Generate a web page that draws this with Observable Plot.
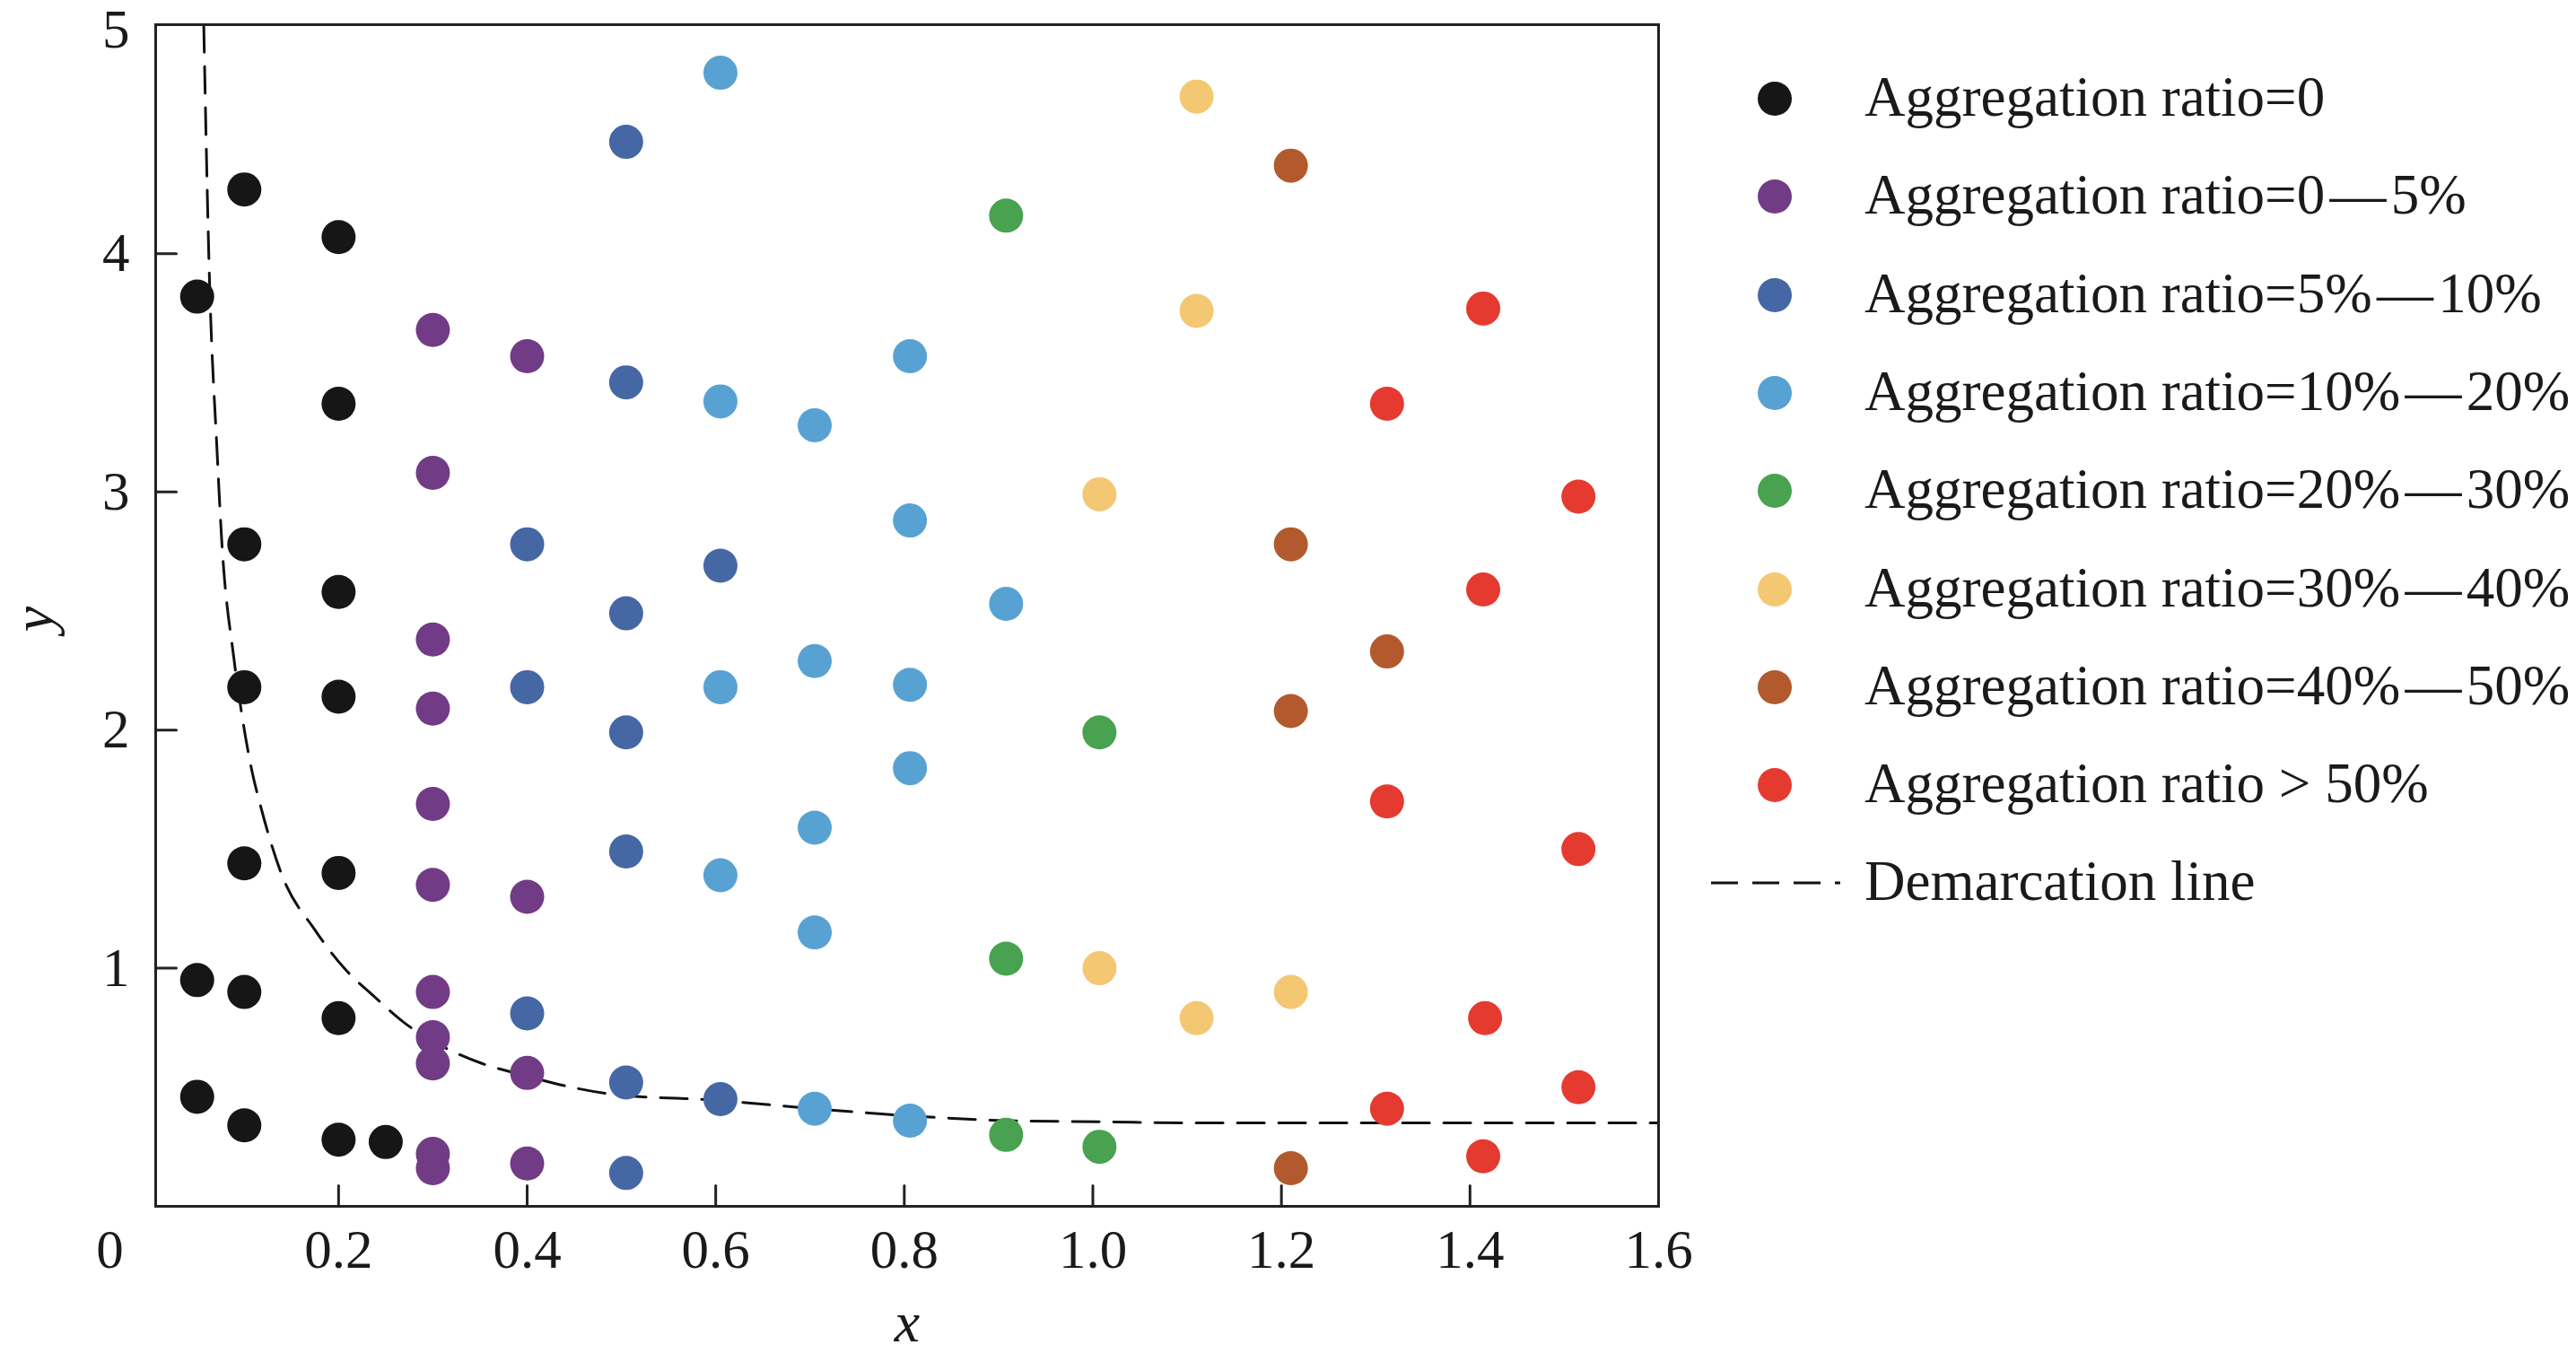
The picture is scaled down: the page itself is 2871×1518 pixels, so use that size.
<!DOCTYPE html>
<html>
<head>
<meta charset="utf-8">
<script src="https://cdn.jsdelivr.net/npm/d3@7"></script>
<script src="https://cdn.jsdelivr.net/npm/@observablehq/plot@0.6"></script>
<style>
html, body { margin: 0; padding: 0; background: #fff; }
#wrap { position: relative; width: 2871px; height: 1518px; overflow: hidden; font-family: "Liberation Serif", "Times New Roman", serif; }
#legend { position: absolute; left: 0; top: 0; width: 2871px; height: 1518px; pointer-events: none; }
.sw { position: absolute; width: 38px; height: 38px; border-radius: 50%; }
.lab { position: absolute; font-size: 63px; line-height: 63px; color: #1a1a1a; white-space: nowrap; }
</style>
</head>
<body>
<div id="wrap"><div id="chart"></div><div id="legend"></div></div>
<script>
// ---- categories & colours ----
const categories = [
  "Aggregation ratio=0",
  "Aggregation ratio=0\u200a\u2014\u200a5%",
  "Aggregation ratio=5%\u200a\u2014\u200a10%",
  "Aggregation ratio=10%\u200a\u2014\u200a20%",
  "Aggregation ratio=20%\u200a\u2014\u200a30%",
  "Aggregation ratio=30%\u200a\u2014\u200a40%",
  "Aggregation ratio=40%\u200a\u2014\u200a50%",
  "Aggregation ratio > 50%"
];
const colors = ["#161616", "#713b85", "#4567a4", "#58a2d3", "#48a24f", "#f4c772", "#b25a2d", "#e53a30"];
const lineLabel = "Demarcation line";

// ---- series values ----
const blackX  = [0.05, 0.1, 0.2, 0.2, 0.1, 0.2, 0.1, 0.2, 0.1, 0.2, 0.05, 0.1, 0.2, 0.05, 0.1, 0.2, 0.25];
const blackY  = [3.82, 4.27, 4.07, 3.37, 2.78, 2.58, 2.18, 2.14, 1.44, 1.40, 0.95, 0.90, 0.79, 0.46, 0.34, 0.28, 0.27];
const purpleX = [0.3, 0.4, 0.3, 0.3, 0.3, 0.3, 0.3, 0.4, 0.3, 0.3, 0.3, 0.4, 0.3, 0.3, 0.4];
const purpleY = [3.68, 3.57, 3.08, 2.38, 2.09, 1.69, 1.35, 1.30, 0.90, 0.71, 0.60, 0.56, 0.22, 0.16, 0.18];
const dblueX  = [0.505, 0.505, 0.4, 0.605, 0.505, 0.4, 0.505, 0.505, 0.4, 0.505, 0.605, 0.505];
const dblueY  = [4.47, 3.46, 2.78, 2.69, 2.49, 2.18, 1.99, 1.49, 0.81, 0.52, 0.45, 0.14];
const lblueX  = [0.605, 0.605, 0.705, 0.806, 0.806, 0.908, 0.705, 0.605, 0.806, 0.806, 0.705, 0.605, 0.705, 0.705, 0.806];
const lblueY  = [4.76, 3.38, 3.28, 3.57, 2.88, 2.53, 2.29, 2.18, 2.19, 1.84, 1.59, 1.39, 1.15, 0.41, 0.36];
const greenX  = [0.908, 1.007, 0.908, 0.908, 1.007];
const greenY  = [4.16, 1.99, 1.04, 0.30, 0.25];
const yellowX = [1.11, 1.11, 1.007, 1.007, 1.11, 1.21];
const yellowY = [4.66, 3.76, 2.99, 1.00, 0.79, 0.90];
const brownX  = [1.21, 1.21, 1.312, 1.21, 1.21];
const brownY  = [4.37, 2.78, 2.33, 2.08, 0.16];
const redX    = [1.414, 1.312, 1.515, 1.414, 1.312, 1.515, 1.416, 1.515, 1.312, 1.414];
const redY    = [3.77, 3.37, 2.98, 2.59, 1.70, 1.50, 0.79, 0.50, 0.41, 0.21];

// demarcation line, points
const lineX = [0.057, 0.063, 0.071, 0.076, 0.089, 0.098, 0.108, 0.118, 0.139, 0.175, 0.206, 0.238, 0.270, 0.311, 0.352, 0.397, 0.447, 0.492, 0.602, 0.704, 0.806, 0.908, 1.007, 1.110, 1.600];
const lineY = [4.96, 3.90, 3.18, 2.80, 2.30, 2.05, 1.83, 1.67, 1.40, 1.16, 1.00, 0.88, 0.77, 0.67, 0.60, 0.55, 0.50, 0.47, 0.445, 0.41, 0.38, 0.36, 0.355, 0.35, 0.35];

// ---- ticks ----
const xTickMarks  = [0.2, 0.4, 0.6, 0.8, 1.0, 1.2, 1.4];
const xTickLabels = [0.2, 0.4, 0.6, 0.8, 1.0, 1.2, 1.4, 1.6];
const yTickMarks  = [1, 2, 3, 4];
const yTickLabels = [1, 2, 3, 4];
const topYLabel   = ["5"];
const originLabel = ["0"];
const xTitle = ["x"];
const yTitle = ["y"];

// ---- build table ----
const seriesX = [blackX, purpleX, dblueX, lblueX, greenX, yellowX, brownX, redX];
const seriesY = [blackY, purpleY, dblueY, lblueY, greenY, yellowY, brownY, redY];
const points = [];
seriesX.forEach((xs, i) => xs.forEach((x, j) => points.push({x, y: seriesY[i][j], cat: categories[i]})));
const demarcation = lineX.map((x, i) => ({x, y: lineY[i]}));

const font = "Liberation Serif";
const ink = "#1a1a1a";
const tickShape = {draw(context, l) { context.moveTo(0, 0); context.lineTo(0, -l); }};

const chart = Plot.plot({
  width: 2871,
  height: 1518,
  marginLeft: 173,
  marginRight: 1023,
  marginTop: 27,
  marginBottom: 174,
  style: {fontFamily: font, background: "white", color: ink},
  x: {domain: [0.006, 1.6], axis: null},
  y: {domain: [0, 4.962], axis: null},
  color: {domain: categories, range: colors},
  marks: [
    Plot.line(demarcation, {x: "x", y: "y", curve: "monotone-x", stroke: "#111", strokeWidth: 3, strokeDasharray: "30,16"}),
    Plot.dot(points, {x: "x", y: "y", fill: "cat", r: 19}),
    Plot.frame({stroke: "#222", strokeWidth: 3}),
    Plot.vector(xTickMarks, {x: d => d, frameAnchor: "bottom", length: 23, rotate: 0, anchor: "start", shape: tickShape, stroke: "#222", strokeWidth: 3}),
    Plot.vector(yTickMarks, {y: d => d, frameAnchor: "left", length: 23, rotate: 90, anchor: "start", shape: tickShape, stroke: "#222", strokeWidth: 3}),
    Plot.text(xTickLabels, {x: d => d, frameAnchor: "bottom", lineAnchor: "middle", dy: 49, text: d => d3.format(".1f")(d), fontSize: 61, fontFamily: font, fill: ink}),
    Plot.text(yTickLabels, {y: d => d, frameAnchor: "left", lineAnchor: "middle", dx: -29, textAnchor: "end", text: d => String(d), fontSize: 61, fontFamily: font, fill: ink}),
    Plot.text(topYLabel, {frameAnchor: "top-left", lineAnchor: "middle", dx: -29, dy: 6, textAnchor: "end", text: d => d, fontSize: 61, fontFamily: font, fill: ink}),
    Plot.text(originLabel, {frameAnchor: "bottom-left", lineAnchor: "middle", textAnchor: "middle", dx: -51, dy: 49, text: d => d, fontSize: 61, fontFamily: font, fill: ink}),
    Plot.text(xTitle, {frameAnchor: "bottom", lineAnchor: "middle", textAnchor: "middle", dy: 130, text: d => d, fontSize: 64, fontStyle: "italic", fontFamily: font, fill: ink}),
    Plot.text(yTitle, {frameAnchor: "left", lineAnchor: "middle", textAnchor: "middle", dx: -136, dy: 4, rotate: -90, text: d => d, fontSize: 64, fontStyle: "italic", fontFamily: font, fill: ink})
  ]
});
document.getElementById("chart").appendChild(chart);

// ---- legend (HTML overlay) ----
const legend = document.getElementById("legend");
const rowY0 = 110, rowStep = 109.3, dotX = 1978, textX = 2078;
categories.forEach((c, i) => {
  const cy = rowY0 + i * rowStep;
  const sw = document.createElement("div");
  sw.className = "sw";
  sw.style.left = (dotX - 19) + "px";
  sw.style.top = (cy - 19) + "px";
  sw.style.background = colors[i];
  legend.appendChild(sw);
  const lab = document.createElement("div");
  lab.className = "lab";
  lab.style.left = textX + "px";
  lab.style.top = (cy - 33) + "px";
  lab.textContent = c;
  legend.appendChild(lab);
});
{
  const cy = rowY0 + categories.length * rowStep;
  const ns = "http://www.w3.org/2000/svg";
  const svg = document.createElementNS(ns, "svg");
  svg.setAttribute("width", "150");
  svg.setAttribute("height", "10");
  svg.style.position = "absolute";
  svg.style.left = "1905px";
  svg.style.top = (cy - 5) + "px";
  const ln = document.createElementNS(ns, "line");
  ln.setAttribute("x1", "2"); ln.setAttribute("x2", "146");
  ln.setAttribute("y1", "5"); ln.setAttribute("y2", "5");
  ln.setAttribute("stroke", "#111"); ln.setAttribute("stroke-width", "3");
  ln.setAttribute("stroke-dasharray", "30,16");
  svg.appendChild(ln);
  legend.appendChild(svg);
  const lab = document.createElement("div");
  lab.className = "lab";
  lab.style.left = textX + "px";
  lab.style.top = (cy - 33) + "px";
  lab.textContent = lineLabel;
  legend.appendChild(lab);
}
</script>
</body>
</html>
